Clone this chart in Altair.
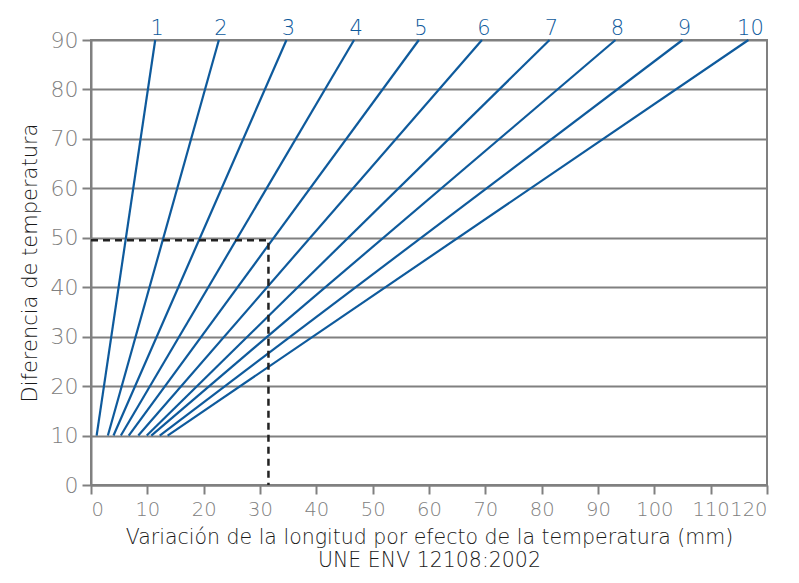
import altair as alt
import pandas as pd

labels = ["1", "2", "3", "4", "5", "6", "7", "8", "9", "10"]
x_start = [1.0, 3.0, 4.0, 5.3, 6.7, 8.4, 9.9, 10.7, 12.2, 13.6]
x_end = [11.4, 22.7, 34.7, 46.7, 58.2, 69.4, 81.4, 93.1, 105.0, 116.7]
y_start = 10
y_end = 90

dash_x = 31.5
dash_y = 49.5

rows = []
for i, lab in enumerate(labels):
    rows.append({"serie": lab, "order": i, "x": x_start[i], "y": y_start})
    rows.append({"serie": lab, "order": i, "x": x_end[i], "y": y_end})
df = pd.DataFrame(rows)
df_lab = pd.DataFrame({"serie": labels, "x": x_end, "y": [y_end] * len(labels)})
df_dash = pd.DataFrame({"x": [0, dash_x, dash_x], "y": [dash_y, dash_y, 0], "o": [0, 1, 2]})

FONT = "DejaVu Sans"
BLUE = "#0e5a9c"
GRAY = "#808080"

xsc = alt.Scale(domain=[0, 120], nice=False, zero=False)
ysc = alt.Scale(domain=[0, 90], nice=False, zero=False)

xax = alt.Axis(values=list(range(0, 121, 10)), grid=False, domainColor=GRAY, domainWidth=2,
               tickColor=GRAY, tickWidth=2, tickSize=9, labelColor=GRAY, labelFont=FONT,
               labelFontSize=19.5, labelPadding=6, labelFontWeight=300, labelOverlap=False,
               title=["Variación de la longitud por efecto de la temperatura (mm)", "UNE ENV 12108:2002"],
               titleFont=FONT, titleFontSize=20.5, titleFontWeight=300, titleColor="#1a1a1a",
               titlePadding=9, titleLineHeight=23)
yax = alt.Axis(values=list(range(0, 91, 10)), grid=True, gridColor=GRAY, gridWidth=2,
               domainColor=GRAY, domainWidth=2, tickColor=GRAY, tickWidth=2, tickSize=9,
               labelColor=GRAY, labelFont=FONT, labelFontSize=22, labelPadding=4, labelFontWeight=300,
               labelOverlap=False,
               title="Diferencia de temperatura", titleFont=FONT, titleFontSize=21,
               titleFontWeight=300, titleColor="#1a1a1a", titlePadding=10)

lines = alt.Chart(df).mark_line(color=BLUE, strokeWidth=2.2).encode(
    x=alt.X("x:Q", scale=xsc, axis=xax),
    y=alt.Y("y:Q", scale=ysc, axis=yax),
    detail="serie:N",
    order="y:Q",
)

dash = alt.Chart(df_dash).mark_line(color="#222222", strokeWidth=2.5, strokeDash=[7, 5]).encode(
    x=alt.X("x:Q", scale=xsc),
    y=alt.Y("y:Q", scale=ysc),
    order="o:Q",
)

text = alt.Chart(df_lab).mark_text(color=BLUE, font=FONT, fontSize=21, fontWeight=300,
                                   baseline="bottom", align="center", dx=2, dy=-1).encode(
    x=alt.X("x:Q", scale=xsc),
    y=alt.Y("y:Q", scale=ysc),
    text="serie:N",
)

chart = alt.layer(lines, dash, text).properties(
    width=676, height=445,
    autosize=alt.AutoSizeParams(type="none"),
    padding={"left": 83, "top": 32, "right": 24, "bottom": 94},
).configure_view(stroke=GRAY, strokeWidth=2)

chart.save("out.html", embed_options={"renderer": "svg", "actions": False})
